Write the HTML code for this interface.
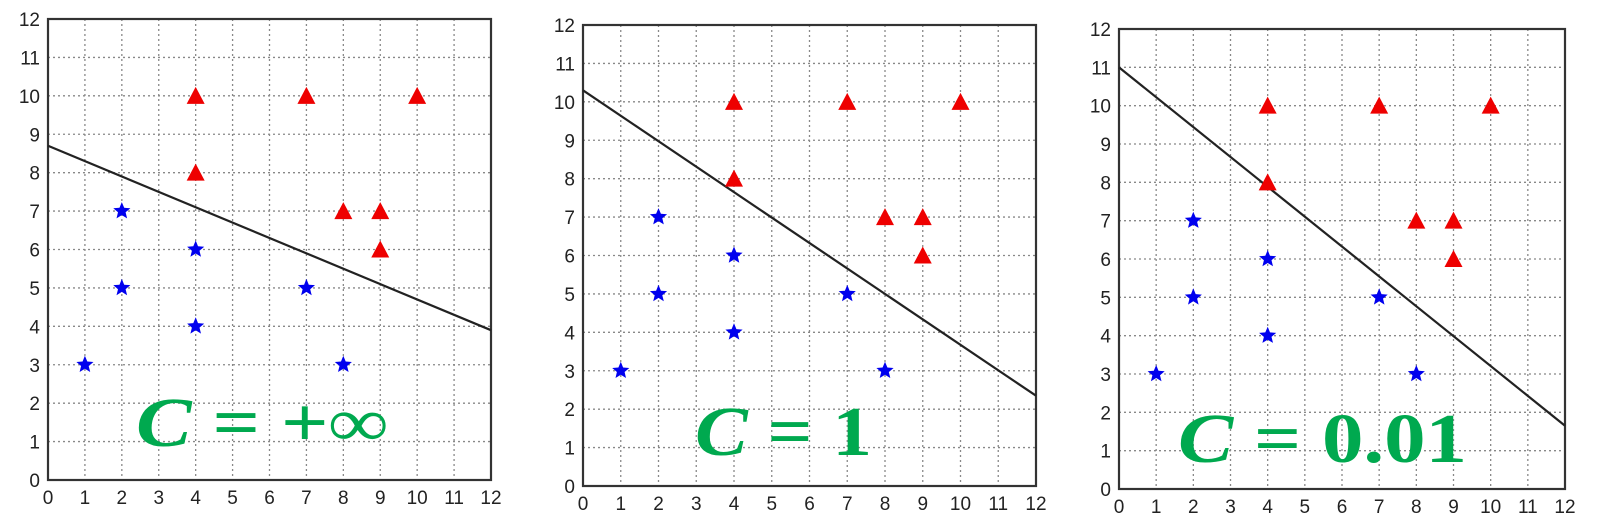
<!DOCTYPE html>
<html><head><meta charset="utf-8"><style>
html,body{margin:0;padding:0;background:#fff;width:1599px;height:522px;overflow:hidden}
</style></head><body>
<svg id="chart" width="1599" height="522" xmlns="http://www.w3.org/2000/svg" font-family="Liberation Sans, sans-serif"></svg>
<script>
const ticks = [0,1,2,3,4,5,6,7,8,9,10,11,12];
const starXs = [1,2,2,4,4,7,8];
const starYs = [3,7,5,6,4,5,3];
const triX = [4,7,10,4,8,9,9];
const triY = [10,10,10,8,7,7,6];
const lineStart = [8.7,10.3,11.0];
const lineEnd = [3.9,2.35,1.65];
const panelLabels = ["+∞","1","0.01"];
const panels = [
 {x0:48,x1:491,yTop:19,yBot:480,tx:136,tw:252,base:446},
 {x0:583,x1:1036,yTop:25,yBot:486,tx:695,tw:177,base:455},
 {x0:1119,x1:1565,yTop:29,yBot:489,tx:1178,tw:289,base:462}
];
const NS="http://www.w3.org/2000/svg";
const svg=document.getElementById('chart');
function mk(t,a,p){const e=document.createElementNS(NS,t);for(const k in a)e.setAttribute(k,a[k]);(p||svg).appendChild(e);return e;}
function starPts(cx,cy,R,r){let s=[];for(let i=0;i<10;i++){const a=-Math.PI/2+i*Math.PI/5;const rr=i%2?r:R;s.push((cx+rr*Math.cos(a)).toFixed(1)+','+(cy+rr*Math.sin(a)).toFixed(1));}return s.join(' ');}
panels.forEach((P,pi)=>{
  const g=mk('g',{});
  
  
  const sx=v=>P.x0+(P.x1-P.x0)*v/12;
  const sy=v=>P.yBot-(P.yBot-P.yTop)*v/12;
  ticks.forEach(t=>{
    if(t>0&&t<12){
      const gv=mk('line',{x1:sx(t),x2:sx(t),y1:P.yTop,y2:P.yBot,stroke:'#888','stroke-width':1.3,'stroke-dasharray':'2,3'},g);
      
      
      const gh=mk('line',{x1:P.x0,x2:P.x1,y1:sy(t),y2:sy(t),stroke:'#888','stroke-width':1.3,'stroke-dasharray':'2,3'},g);
      
      
    }
    const xl=mk('text',{x:sx(t),y:P.yBot+24,'text-anchor':'middle','font-size':19,fill:'#222'},g);
    xl.textContent=t;
    
    
    const yl=mk('text',{x:P.x0-8,y:sy(t)+7,'text-anchor':'end','font-size':19,fill:'#222'},g);
    yl.textContent=t;
    
    
  });
  const fr=mk('rect',{x:P.x0,y:P.yTop,width:P.x1-P.x0,height:P.yBot-P.yTop,fill:'none',stroke:'#333','stroke-width':2.2},g);
  
  
  const ln=mk('line',{x1:sx(0),y1:sy(lineStart[pi]),x2:sx(12),y2:sy(lineEnd[pi]),stroke:'#222','stroke-width':2.2},g);
  
  
  triX.forEach((x,i)=>{
    const cx=sx(x),cy=sy(triY[i])+1;
    const tr=mk('polygon',{points:`${cx},${cy-10} ${cx-9},${cy+7} ${cx+9},${cy+7}`,fill:'#ee0000'},g);
    
    
  });
  starXs.forEach((x,i)=>{
    const st=mk('polygon',{points:starPts(sx(x),sy(starYs[i]),9,4),fill:'#0000ee'},g);
    
    
  });
  const lab=mk('text',{x:P.tx,y:P.base,'font-size':70,fill:'#00a94f','font-weight':'bold',textLength:P.tw,lengthAdjust:'spacingAndGlyphs',style:'font-family:"Liberation Serif",serif'},g);
  
  
  const c=mk('tspan',{'font-style':'italic'},lab);c.textContent='C';
  const r=mk('tspan',{},lab);r.textContent=' = '+panelLabels[pi];
});
</script>
</body></html>
